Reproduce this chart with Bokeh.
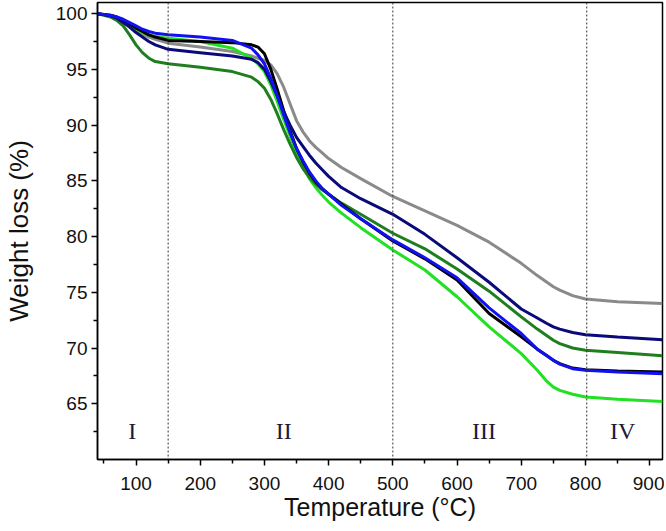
from bokeh.plotting import figure
from bokeh.models import FixedTicker, Span, ColumnDataSource
from bokeh.core.properties import value
from bokeh.embed import file_html
from bokeh.resources import INLINE

temperature = [40, 60, 70, 80, 90, 100, 110, 120, 130, 150, 200, 250, 280, 290, 300, 310, 320, 330,
               340, 350, 360, 370, 380, 390, 400, 420, 450, 500, 550, 600, 650, 700, 725, 740,
               750, 760, 780, 800, 850, 920]

gray_series = [100, 99.8, 99.6, 99.3, 98.9, 98.5, 98.2, 97.9, 97.7, 97.35, 97.0, 96.6, 96.2, 96.0,
               95.8, 95.4, 94.6, 93.4, 91.9, 90.4, 89.4, 88.6, 88.0, 87.5, 87.0, 86.2, 85.2, 83.6,
               82.3, 81.0, 79.5, 77.6, 76.5, 75.9, 75.5, 75.2, 74.7, 74.4, 74.15, 74.0]
navy_series = [100, 99.8, 99.6, 99.2, 98.8, 98.3, 97.9, 97.5, 97.2, 96.8, 96.5, 96.2, 95.9, 95.6,
               95.0, 93.9, 92.6, 91.2, 90.0, 88.9, 88.1, 87.3, 86.6, 86.0, 85.4, 84.4, 83.4, 82.0,
               80.2, 78.1, 75.9, 73.5, 72.7, 72.2, 71.9, 71.7, 71.4, 71.2, 71.0, 70.75]
dgreen_series = [100, 99.7, 99.4, 98.9, 98.1, 97.2, 96.5, 96.0, 95.7, 95.5, 95.2, 94.8, 94.3, 93.9,
                 93.3, 92.3, 91.0, 89.6, 88.3, 87.1, 86.1, 85.3, 84.7, 84.2, 83.8, 83.0, 82.0, 80.3,
                 78.9, 77.1, 75.1, 72.8, 71.7, 71.1, 70.7, 70.4, 70.0, 69.8, 69.6, 69.3]
black_series = [100, 99.85, 99.7, 99.4, 99.1, 98.7, 98.4, 98.1, 97.9, 97.6, 97.5, 97.4, 97.2, 97.0,
                96.4, 95.0, 93.2, 91.3, 89.5, 87.9, 86.7, 85.7, 84.9, 84.3, 83.8, 82.9, 81.6, 79.6,
                78.0, 76.1, 73.1, 71.0, 69.9, 69.3, 68.9, 68.6, 68.2, 68.05, 67.95, 67.85]
blue_series = [100, 99.85, 99.7, 99.5, 99.2, 98.9, 98.6, 98.4, 98.25, 98.1, 97.9, 97.6, 96.9, 96.3,
               95.5, 94.2, 92.6, 90.9, 89.3, 87.9, 86.8, 85.8, 85.0, 84.3, 83.8, 82.8, 81.6, 79.7,
               78.1, 76.3, 73.6, 71.3, 69.9, 69.3, 68.9, 68.55, 68.15, 68.0, 67.85, 67.7]
lime_series = [100, 99.8, 99.6, 99.3, 99.0, 98.6, 98.3, 98.1, 97.95, 97.8, 97.5, 96.9, 96.0, 95.5,
               94.8, 93.6, 92.1, 90.5, 89.0, 87.5, 86.3, 85.2, 84.4, 83.7, 83.1, 82.1, 80.8, 78.8,
               77.0, 74.6, 71.9, 69.5, 68.0, 67.0, 66.5, 66.2, 65.85, 65.6, 65.4, 65.2]

series_colors = ["#8a8a8a", "#22e022", "#1f7f1f", "#000000", "#0a0a7a", "#1010f0"]
series_values = [gray_series, lime_series, dgreen_series, black_series, navy_series, blue_series]

stage_bounds = [150, 500, 802]
stage_labels = ["I", "II", "III", "IV"]
stage_x = [94, 330, 642, 858]
stage_y = [62.6, 62.6, 62.6, 62.6]

x_major = [100, 200, 300, 400, 500, 600, 700, 800, 900]
x_minor = [50, 150, 250, 350, 450, 550, 650, 750, 850]
y_major = [65, 70, 75, 80, 85, 90, 95, 100]
y_minor = [62.5, 67.5, 72.5, 77.5, 82.5, 87.5, 92.5, 97.5]

p = figure(width=664, height=529, x_range=(40, 920), y_range=(60, 101),
           output_backend="svg", toolbar_location=None,
           min_border_left=93, min_border_right=2, min_border_top=2, min_border_bottom=70)
p.grid.visible = False
p.outline_line_color = "black"
p.outline_line_width = 1.5
p.background_fill_color = "white"
p.border_fill_color = "white"

for b in stage_bounds:
    p.add_layout(Span(location=b, dimension="height", line_color="#333333",
                      line_width=1, line_dash="2 2"))

for col, vals in zip(series_colors, series_values):
    p.line(temperature, vals, line_color=col, line_width=3)

src = ColumnDataSource(dict(x=stage_x, y=stage_y, t=stage_labels))
p.text(x="x", y="y", text="t", source=src, text_align="center", text_baseline="middle",
       text_font=value("Liberation Serif"), text_font_size="24px", text_color="#1a1a3a")

p.xaxis.ticker = FixedTicker(ticks=x_major, minor_ticks=x_minor)
p.yaxis.ticker = FixedTicker(ticks=y_major, minor_ticks=y_minor)
for ax in (p.xaxis[0], p.yaxis[0]):
    ax.axis_line_width = 1.5
    ax.major_tick_line_width = 1.5
    ax.minor_tick_line_width = 1.5
    ax.major_tick_in = 0
    ax.major_tick_out = 6
    ax.minor_tick_in = 0
    ax.minor_tick_out = 4
    ax.major_label_text_font = "Liberation Sans"
    ax.major_label_text_font_size = "19px"
    ax.major_label_text_color = "#111111"
    ax.axis_label_text_font = "Liberation Sans"
    ax.axis_label_text_font_style = "normal"
    ax.axis_label_text_color = "#111111"

p.xaxis.axis_label = "Temperature (°C)"
p.yaxis.axis_label = "Weight loss (%)"
p.xaxis.axis_label_text_font_size = "25px"
p.yaxis.axis_label_text_font_size = "26px"
p.xaxis.major_label_standoff = 11
p.yaxis.major_label_standoff = 4
p.xaxis.axis_label_standoff = 0
p.yaxis.axis_label_standoff = 19

open("out.html", "w").write(file_html(p, INLINE))
